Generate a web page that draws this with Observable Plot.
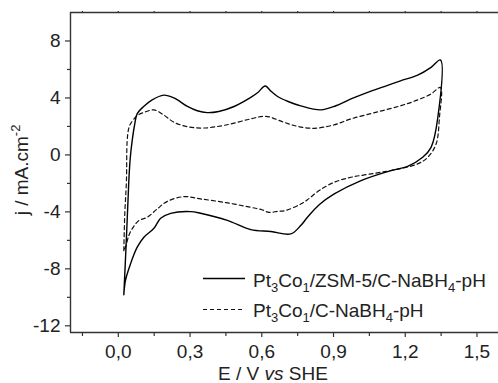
<!DOCTYPE html>
<html>
<head>
<meta charset="utf-8">
<script src="https://cdn.jsdelivr.net/npm/d3@7"></script>
<script src="https://cdn.jsdelivr.net/npm/@observablehq/plot@0.6"></script>
<style>
  html, body { margin: 0; padding: 0; background: white; }
  #chart svg { display: block; }
</style>
</head>
<body>
<div id="chart"></div>
<script>
// ---- data ----
const seriesNames = ["Pt3Co1/ZSM-5/C-NaBH4-pH", "Pt3Co1/C-NaBH4-pH"];

// solid: Pt3Co1/ZSM-5/C (anodic then cathodic sweep)
const solidE = [0.023, 0.034, 0.044, 0.050, 0.058, 0.068, 0.079, 0.106, 0.140, 0.190, 0.233, 0.289, 0.330, 0.372, 0.420, 0.484, 0.554, 0.585, 0.614, 0.640, 0.666, 0.710, 0.763, 0.847, 0.910, 0.973, 1.040, 1.112, 1.180, 1.252, 1.308, 1.347,
                1.336, 1.308, 1.273, 1.210, 1.140, 1.015, 0.903, 0.840, 0.791, 0.763, 0.721, 0.638, 0.554, 0.456, 0.344, 0.302, 0.219, 0.177, 0.149, 0.107, 0.079, 0.051, 0.030, 0.023];
const solidJ = [-9.82, -5.8, -1.8, -0.2, 1.0, 2.1, 2.9, 3.4, 3.85, 4.2, 4.0, 3.4, 3.1, 2.97, 3.05, 3.4, 4.04, 4.4, 4.84, 4.45, 4.1, 3.75, 3.44, 3.16, 3.45, 3.93, 4.38, 4.8, 5.2, 5.6, 6.15, 6.67,
                2.6, 0.53, -0.17, -0.8, -1.1, -1.8, -2.74, -3.5, -4.38, -4.96, -5.55, -5.38, -5.25, -4.6, -4.1, -3.98, -4.1, -4.45, -5.15, -5.78, -6.48, -7.65, -8.8, -9.82];

// dashed: Pt3Co1/C
const dashE = [0.023, 0.027, 0.034, 0.037, 0.044, 0.051, 0.079, 0.110, 0.149, 0.190, 0.233, 0.290, 0.358, 0.450, 0.554, 0.617, 0.693, 0.750, 0.819, 0.900, 0.973, 1.080, 1.182, 1.250, 1.308, 1.347,
               1.343, 1.329, 1.294, 1.252, 1.154, 1.050, 0.973, 0.903, 0.840, 0.791, 0.763, 0.700, 0.666, 0.630, 0.600, 0.554, 0.450, 0.344, 0.274, 0.205, 0.163, 0.121, 0.086, 0.058, 0.044, 0.030, 0.023];
const dashJ = [-6.72, -4.14, -1.8, 1.0, 1.9, 2.18, 2.76, 3.0, 3.16, 2.8, 2.29, 1.98, 1.89, 2.1, 2.53, 2.71, 2.29, 2.0, 1.87, 2.1, 2.53, 3.0, 3.46, 3.85, 4.28, 4.74,
               2.64, 0.77, -0.17, -0.63, -1.05, -1.35, -1.57, -1.92, -2.5, -3.15, -3.45, -3.9, -3.96, -4.03, -3.85, -3.68, -3.35, -3.09, -2.93, -3.26, -3.79, -4.38, -4.61, -5.19, -5.66, -6.48, -6.72];

const xMajor = [0, 0.3, 0.6, 0.9, 1.2, 1.5];
const xMinor = [-0.15, 0.15, 0.45, 0.75, 1.05, 1.35];
const yMajor = [-12, -8, -4, 0, 4, 8];
const yMinor = [-10, -6, -2, 2, 6];
const X_DOMAIN = [-0.2, 1.59];
const Y_DOMAIN = [-12.47, 10];

const solid = solidE.map((e, i) => ({E: e, j: solidJ[i]}));
const dashed = dashE.map((e, i) => ({E: e, j: dashJ[i]}));

const fmtX = d => d3.format(".1f")(d).replace(".", ",");
const fmtY = d => String(d);
const blank = () => "";
const axisColor = "#333";

const chart = Plot.plot({
  width: 498,
  height: 383,
  marginLeft: 70,
  marginRight: 0,
  marginTop: 12,
  marginBottom: 51,
  x: {domain: X_DOMAIN},
  y: {domain: Y_DOMAIN},
  style: {fontFamily: "'Liberation Sans', Arial, sans-serif", fontSize: "19px", color: "#222", background: "white", overflow: "visible"},
  marks: [
    Plot.axisX(xMajor, {anchor: "bottom", tickSize: 5, tickPadding: 7, tickFormat: fmtX, label: null, stroke: axisColor, strokeWidth: 1.2}),
    Plot.axisX(xMinor, {anchor: "bottom", tickSize: 4, tickFormat: blank, label: null, stroke: axisColor, strokeWidth: 1.2}),
    Plot.axisX(xMajor.concat(xMinor), {anchor: "top", tickSize: 2, tickFormat: blank, label: null, stroke: axisColor, strokeWidth: 1.2}),
    Plot.axisY(yMajor, {anchor: "left", tickSize: 5, tickPadding: 5, tickFormat: fmtY, label: null, stroke: axisColor, strokeWidth: 1.2}),
    Plot.axisY(yMinor, {anchor: "left", tickSize: 3, tickFormat: blank, label: null, stroke: axisColor, strokeWidth: 1.2}),
    Plot.ruleX([X_DOMAIN[0]], {stroke: axisColor, strokeWidth: 1.4}),
    Plot.ruleY(Y_DOMAIN, {stroke: axisColor, strokeWidth: 1.4}),
    Plot.line(dashed, {x: "E", y: "j", stroke: "#111", strokeWidth: 1.2, strokeDasharray: "4,3", curve: "catmull-rom"}),
    Plot.line(solid, {x: "E", y: "j", stroke: "#000", strokeWidth: 1.4, curve: "catmull-rom"})
  ]
});

document.getElementById("chart").appendChild(chart);

const svg = d3.select(chart);
const font = "'Liberation Sans', Arial, sans-serif";

// x axis title
const xt = svg.append("text").attr("x", 273).attr("y", 379.5).attr("text-anchor", "middle")
  .attr("font-family", font).attr("font-size", 19).attr("fill", "#222");
xt.append("tspan").text("E / V ");
xt.append("tspan").attr("font-style", "italic").text("vs");
xt.append("tspan").text(" SHE");

// y axis title
const yt = svg.append("text").attr("transform", "translate(28,170) rotate(-90)").attr("text-anchor", "middle")
  .attr("font-family", font).attr("font-size", 19).attr("fill", "#222");
yt.append("tspan").text("j / mA.cm");
yt.append("tspan").attr("font-size", 13).attr("dy", -8).text("-2");

// legend
function legendLabel(g, x, y, parts) {
  const t = g.append("text").attr("x", x).attr("y", y).attr("text-anchor", "start")
    .attr("font-family", font).attr("font-size", 19).attr("fill", "#222");
  let shift = 0;
  for (const [s, sub] of parts) {
    const dy = (sub ? 5 : 0) - shift;
    shift = sub ? 5 : 0;
    const ts = t.append("tspan").attr("dy", dy).text(s);
    if (sub) ts.attr("font-size", 13);
  }
}
const lg = svg.append("g");
lg.append("line").attr("x1", 203).attr("x2", 245).attr("y1", 278.5).attr("y2", 278.5).attr("stroke", "#000").attr("stroke-width", 1.4);
legendLabel(lg, 253, 286.5, [["Pt", false], ["3", true], ["Co", false], ["1", true], ["/ZSM-5/C-NaBH", false], ["4", true], ["-pH", false]]);
lg.append("line").attr("x1", 203).attr("x2", 245).attr("y1", 309.5).attr("y2", 309.5).attr("stroke", "#111").attr("stroke-width", 1.2).attr("stroke-dasharray", "4,3");
legendLabel(lg, 253, 317, [["Pt", false], ["3", true], ["Co", false], ["1", true], ["/C-NaBH", false], ["4", true], ["-pH", false]]);
</script>
</body>
</html>
